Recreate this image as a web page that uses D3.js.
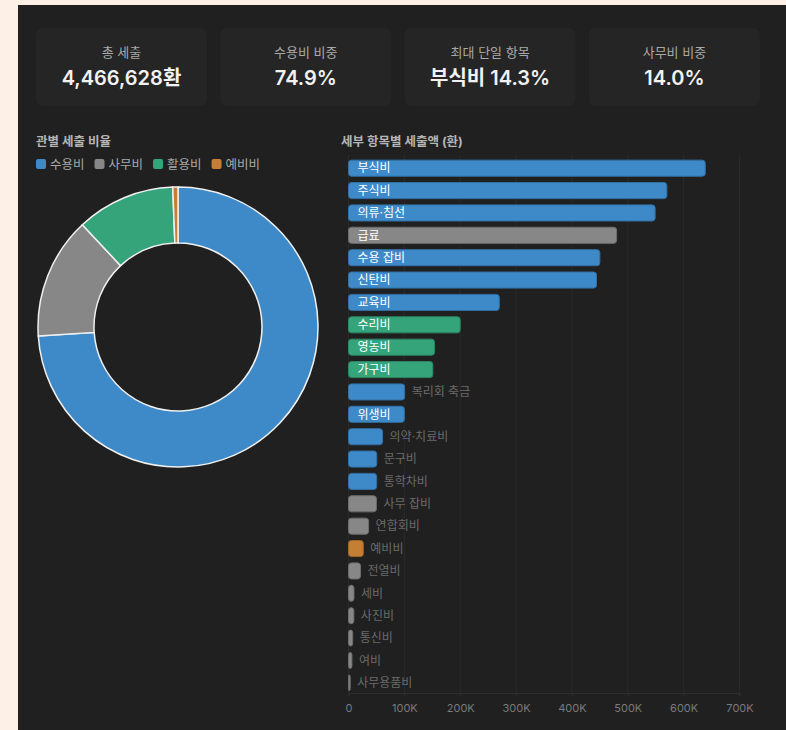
<!DOCTYPE html>
<html>
<head>
<meta charset="utf-8">
<script src="https://cdn.jsdelivr.net/npm/d3@7"></script>
<style>
  body { margin: 0; background: #fdf1e7; font-family: Inter, "Noto Sans CJK KR", sans-serif; }
  svg { display: block; }
</style>
</head>
<body>
<svg id="chart" width="786" height="730"></svg>
<script>
const FONT = 'Inter, "Noto Sans CJK KR", sans-serif';

// KPI cards
const kpiLabels = ['총 세출', '수용비 비중', '최대 단일 항목', '사무비 비중'];
const kpiValues = ['4,466,628환', '74.9%', '부식비 14.3%', '14.0%'];

// groups (관)
const groupNames = ['수용비', '사무비', '활용비', '예비비'];
const groupColors = ['#3e8ac9', '#878787', '#35a47b', '#c47f35'];

// bars (세부 항목)
const items = ['부식비', '주식비', '의류·침선', '급료', '수용 잡비', '신탄비', '교육비', '수리비', '영농비', '가구비',
  '복리회 축금', '위생비', '의약·치료비', '문구비', '통학차비', '사무 잡비', '연합회비', '예비비', '전열비', '세비',
  '사진비', '통신비', '여비', '사무용품비'];
const itemGroups = ['수용비', '수용비', '수용비', '사무비', '수용비', '수용비', '수용비', '활용비', '활용비', '활용비',
  '수용비', '수용비', '수용비', '수용비', '수용비', '사무비', '사무비', '예비비', '사무비', '사무비',
  '사무비', '사무비', '사무비', '사무비'];
const itemValues = [638728, 570000, 549000, 480000, 450000, 444000, 270000, 200000, 154000, 151000,
  100500, 100000, 61000, 50600, 50400, 50000, 36000, 26500, 21500, 9800,
  9600, 7500, 6200, 3000];
const xTicks = [0, 100000, 200000, 300000, 400000, 500000, 600000, 700000];

const svg = d3.select('#chart');
const color = d3.scaleOrdinal().domain(groupNames).range(groupColors);

// dark panel
svg.append('rect').attr('x', 18).attr('y', 5).attr('width', 768).attr('height', 725).attr('fill', '#202020');

// KPI cards
const card = svg.selectAll('.card')
  .data(kpiLabels)
  .enter().append('g')
  .attr('class', 'card')
  .attr('transform', (d, i) => `translate(${36 + i * 184.3},28)`);

card.append('rect')
  .attr('width', 171).attr('height', 78).attr('rx', 7)
  .attr('fill', '#252525');
card.append('text')
  .attr('x', 85.5).attr('y', 29)
  .attr('text-anchor', 'middle')
  .attr('fill', '#a9a9a9').attr('font-size', 13)
  .text(d => d);
card.append('text')
  .attr('x', 85.5).attr('y', 57)
  .attr('text-anchor', 'middle')
  .attr('fill', '#f2f2f2').attr('font-size', 20).attr('font-weight', 600)
  .text((d, i) => kpiValues[i]);

// section titles
svg.append('text').attr('x', 36).attr('y', 146)
  .attr('fill', '#b5b5b5').attr('font-size', 12.5).attr('font-weight', 700)
  .text('관별 세출 비율');
svg.append('text').attr('x', 341).attr('y', 146)
  .attr('fill', '#b5b5b5').attr('font-size', 12.5).attr('font-weight', 700)
  .text('세부 항목별 세출액 (환)');

// legend
let lx = 36;
groupNames.forEach((name, i) => {
  const g = svg.append('g').attr('transform', `translate(${lx},159)`);
  g.append('rect').attr('width', 10).attr('height', 10).attr('rx', 2).attr('fill', groupColors[i]);
  const t = g.append('text').attr('x', 14).attr('y', 9.5)
    .attr('fill', '#a9a9a9').attr('font-size', 12.5).text(name);
  lx += 14 + t.node().getComputedTextLength() + 10;
});

// donut, summed from the items per group
const sums = d3.rollup(items.map((d, i) => ({ g: itemGroups[i], v: itemValues[i] })), v => d3.sum(v, d => d.v), d => d.g);
const groupTotals = groupNames.map(g => sums.get(g));
const pie = d3.pie().sort(null).value(d => d)(groupTotals);
const arc = d3.arc().innerRadius(84).outerRadius(140);
svg.append('g')
  .attr('transform', 'translate(178,327)')
  .selectAll('path')
  .data(pie)
  .enter().append('path')
  .attr('d', arc)
  .attr('fill', (d, i) => groupColors[i])
  .attr('stroke', '#f0f0f0')
  .attr('stroke-width', 1.5);

// bar chart
const x = d3.scaleLinear().domain([0, 700000]).range([348.5, 739.5]);
const y = d3.scaleBand().domain(items).range([157, 694]).paddingInner(0.28).paddingOuter(0.14);

svg.append('g').selectAll('line')
  .data(xTicks)
  .enter().append('line')
  .attr('x1', d => x(d)).attr('x2', d => x(d))
  .attr('y1', 155).attr('y2', 693)
  .attr('stroke', '#2a2a2a').attr('stroke-width', 1);

const xAxis = svg.append('g')
  .attr('transform', 'translate(0,693)')
  .call(d3.axisBottom(x).tickValues(xTicks).tickSize(3).tickPadding(8)
    .tickFormat(d => d === 0 ? '0' : d3.format('~s')(d).toUpperCase()));
xAxis.select('.domain').attr('stroke', '#2e2e2e');
xAxis.selectAll('.tick line').attr('stroke', '#2e2e2e');
xAxis.selectAll('.tick text').attr('fill', '#7a7a7a').attr('font-size', 11)
  .attr('font-family', FONT);

const bar = svg.append('g').selectAll('g')
  .data(items)
  .enter().append('g');

bar.append('rect')
  .attr('x', x(0))
  .attr('y', d => y(d))
  .attr('width', (d, i) => Math.max(1.5, x(itemValues[i]) - x(0)))
  .attr('height', y.bandwidth())
  .attr('rx', 3)
  .attr('fill', (d, i) => color(itemGroups[i]))
  .attr('stroke', (d, i) => d3.color(color(itemGroups[i])).darker(0.6))
  .attr('stroke-width', 1);

bar.append('text')
  .attr('y', d => y(d) + y.bandwidth() / 2 + 4.3)
  .attr('font-size', 12)
  .text(d => d)
  .each(function (d, i) {
    const w = this.getComputedTextLength();
    const bw = x(itemValues[i]) - x(0);
    const t = d3.select(this);
    if (w + 16 < bw) {
      t.attr('x', x(0) + 9).attr('fill', '#ffffff');
    } else {
      t.attr('x', x(itemValues[i]) + 7).attr('fill', '#6b6b6b');
    }
  });
</script>
</body>
</html>
